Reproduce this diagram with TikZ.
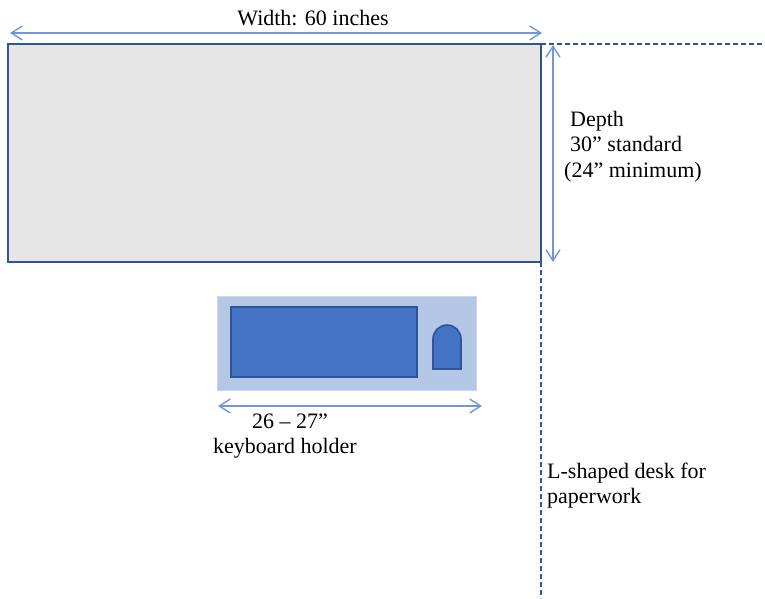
\documentclass[tikz,border=0pt]{standalone}
\usepackage{fontspec}
\setmainfont{Liberation Serif}
\usetikzlibrary{arrows.meta}
\definecolor{deskgray}{HTML}{E7E6E6}
\definecolor{darkblue}{HTML}{2F5597}
\definecolor{dimblue}{HTML}{7396DA}
\definecolor{traybl}{HTML}{B4C7E7}
\definecolor{traybd}{HTML}{C9D8F0}
\definecolor{keybl}{HTML}{4472C4}
\tikzset{
  dimarrow/.style={draw=dimblue, line width=1.4pt,
    {Straight Barb[length=11pt,width=14pt,line width=1.4pt]}-{Straight Barb[length=11pt,width=14pt,line width=1.4pt]}},
  edgeline/.style={draw=darkblue, line width=2.2pt, dash pattern=on 5pt off 3pt},
  lbl/.style={font=\fontsize{22}{26}\selectfont, inner sep=0pt, anchor=base west, text=black},
  box/.style={inner sep=0pt, outer sep=0pt, anchor=north west}
}
\begin{document}
\begin{tikzpicture}[x=1pt,y=-1pt]
\useasboundingbox (0,0) rectangle (765,598);
% desk
\node[box, fill=deskgray, draw=darkblue, line width=2.2pt, minimum width=533pt, minimum height=218pt] (desk) at (8,44) {};
% width dimension
\coordinate (wl) at (10,33);
\coordinate (wr) at (542,33);
\draw[dimarrow] (wl) -- (wr);
\node[lbl, anchor=base] (wlabel) at (313,25) {Width: 60 inches};
% dashed L-desk outline
\coordinate (hx) at (765,44);
\coordinate (vy) at (541,598);
\draw[edgeline] (desk.north east) -- (hx);
\draw[edgeline] (desk.south east) -- (vy);
% depth dimension
\coordinate (dt) at (553,45);
\coordinate (db) at (553,262);
\draw[dimarrow] (dt) -- (db);
\node[lbl] (depth1) at (570,126) {Depth};
\node[lbl] (depth2) at (570,151) {30” standard};
\node[lbl] (depth3) at (564,177) {(24” minimum)};
% keyboard tray
\node[box, fill=traybl, draw=traybd, line width=1pt, minimum width=259pt, minimum height=94pt] (tray) at (217,296) {};
\node[box, fill=keybl, draw=darkblue, line width=2pt, minimum width=186pt, minimum height=70pt] (kbd) at (231,307) {};
\draw[fill=keybl, draw=darkblue, line width=1.6pt] (433,369) -- (433,339) arc(180:360:14) -- (461,369) -- cycle;
% keyboard dimension
\coordinate (kl) at (218,406);
\coordinate (kr) at (482,406);
\draw[dimarrow] (kl) -- (kr);
\node[lbl] (k1) at (252,428) {26 – 27”};
\node[lbl] (k2) at (213,453) {keyboard holder};
% L-shaped label
\node[lbl] (l1) at (547,478) {L-shaped desk for};
\node[lbl] (l2) at (547,503) {paperwork};
\end{tikzpicture}
\end{document}
